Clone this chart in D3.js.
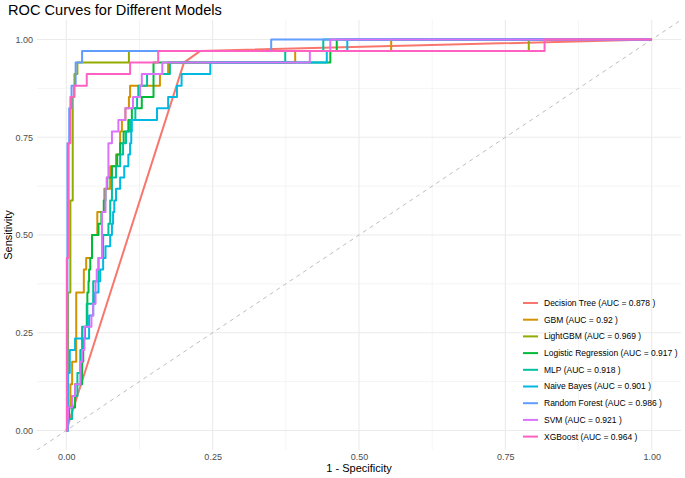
<!DOCTYPE html>
<html>
<head>
<meta charset="utf-8">
<script src="https://cdn.jsdelivr.net/npm/d3@7"></script>
<style>
  body { margin: 0; background: #fff; }
  text { font-family: "Liberation Sans", Arial, sans-serif; }
</style>
</head>
<body>
<script>
// ROC curves, values: [1 - specificity, sensitivity]
var models = ["Decision Tree", "GBM", "LightGBM", "Logistic Regression", "MLP",
              "Naive Bayes", "Random Forest", "SVM", "XGBoost"];
var aucs = ["0.878", "0.92", "0.969", "0.917", "0.918", "0.901", "0.986", "0.921", "0.964"];
var colors = ["#F8766D", "#D39200", "#93AA00", "#00BA38", "#00C19F",
              "#00B9E3", "#619CFF", "#DB72FB", "#FF61C3"];

var dtRoc = [[0, 0], [0.201, 0.941], [0.229, 0.971], [1, 1]];
var gbmRoc = [[0, 0], [0.002, 0.059], [0.007, 0.118], [0.010, 0.176], [0.017, 0.353],
  [0.030, 0.412], [0.034, 0.441], [0.044, 0.5], [0.053, 0.559], [0.065, 0.618],
  [0.075, 0.676], [0.085, 0.706], [0.092, 0.765], [0.095, 0.794], [0.101, 0.824],
  [0.107, 0.853], [0.109, 0.882], [0.160, 0.912], [0.174, 0.941], [0.391, 0.971],
  [0.555, 1], [1, 1]];
var lgbmRoc = [[0, 0], [0.003, 0.353], [0.007, 0.588], [0.011, 0.853], [0.014, 0.912],
  [0.019, 0.941], [0.107, 0.971], [0.790, 1], [1, 1]];
var lrRoc = [[0, 0], [0.002, 0.029], [0.005, 0.059], [0.015, 0.118], [0.027, 0.176],
  [0.029, 0.235], [0.032, 0.265], [0.035, 0.324], [0.036, 0.353], [0.038, 0.382],
  [0.039, 0.412], [0.041, 0.441], [0.044, 0.5], [0.055, 0.529], [0.060, 0.559],
  [0.064, 0.588], [0.067, 0.618], [0.070, 0.647], [0.078, 0.676], [0.087, 0.706],
  [0.092, 0.735], [0.098, 0.765], [0.106, 0.794], [0.112, 0.824], [0.129, 0.853],
  [0.149, 0.941], [0.451, 0.971], [0.462, 1], [1, 1]];
var mlpRoc = [[0, 0], [0.003, 0.029], [0.010, 0.088], [0.019, 0.147], [0.024, 0.206],
  [0.027, 0.265], [0.036, 0.324], [0.046, 0.382], [0.055, 0.441], [0.063, 0.5],
  [0.072, 0.529], [0.075, 0.588], [0.078, 0.647], [0.085, 0.676], [0.092, 0.706],
  [0.097, 0.735], [0.102, 0.765], [0.109, 0.794], [0.118, 0.824], [0.121, 0.853],
  [0.123, 0.882], [0.138, 0.912], [0.177, 0.941], [0.374, 0.971], [0.439, 1], [1, 1]];
var nbRoc = [[0, 0], [0.003, 0.147], [0.006, 0.206], [0.015, 0.235], [0.039, 0.294],
  [0.046, 0.324], [0.049, 0.353], [0.055, 0.382], [0.058, 0.412], [0.063, 0.441],
  [0.067, 0.471], [0.075, 0.5], [0.078, 0.529], [0.080, 0.559], [0.082, 0.588],
  [0.085, 0.618], [0.092, 0.647], [0.099, 0.676], [0.106, 0.706], [0.109, 0.735],
  [0.111, 0.765], [0.112, 0.794], [0.155, 0.824], [0.174, 0.853], [0.189, 0.882],
  [0.197, 0.912], [0.246, 0.941], [0.445, 0.971], [0.480, 1], [1, 1]];
var rfRoc = [[0, 0], [0.002, 0.735], [0.005, 0.824], [0.009, 0.882], [0.016, 0.941],
  [0.027, 0.971], [0.350, 1], [1, 1]];
var svmRoc = [[0, 0], [0.002, 0.029], [0.003, 0.059], [0.010, 0.088], [0.015, 0.118],
  [0.024, 0.176], [0.027, 0.206], [0.031, 0.265], [0.043, 0.294], [0.046, 0.324],
  [0.050, 0.382], [0.052, 0.412], [0.055, 0.441], [0.061, 0.559], [0.067, 0.618],
  [0.069, 0.647], [0.072, 0.735], [0.078, 0.765], [0.089, 0.794], [0.101, 0.824],
  [0.114, 0.853], [0.126, 0.882], [0.129, 0.912], [0.164, 0.941], [0.416, 0.971],
  [0.451, 1], [1, 1]];
var xgbRoc = [[0, 0], [0.001, 0.441], [0.004, 0.735], [0.007, 0.853], [0.013, 0.882],
  [0.035, 0.912], [0.109, 0.941], [0.157, 0.971], [0.817, 1], [1, 1]];

var rocs = [dtRoc, gbmRoc, lgbmRoc, lrRoc, mlpRoc, nbRoc, rfRoc, svmRoc, xgbRoc];

var majorTicks = [0, 0.25, 0.5, 0.75, 1];
var minorTicks = [0.125, 0.375, 0.625, 0.875];

// layout
var W = 685, H = 478;
var panel = {left: 37, right: 681, top: 20, bottom: 450};

var svg = d3.select("body").append("svg")
    .attr("width", W)
    .attr("height", H);

var x = d3.scaleLinear().domain([-0.05, 1.05]).range([panel.left, panel.right]);
var y = d3.scaleLinear().domain([-0.05, 1.05]).range([panel.bottom, panel.top]);

// grid
var grid = svg.append("g");
grid.selectAll(".vminor").data(minorTicks).enter().append("line")
    .attr("x1", d => x(d)).attr("x2", d => x(d))
    .attr("y1", panel.top).attr("y2", panel.bottom)
    .attr("stroke", "#EBEBEB").attr("stroke-width", 0.55);
grid.selectAll(".hminor").data(minorTicks).enter().append("line")
    .attr("y1", d => y(d)).attr("y2", d => y(d))
    .attr("x1", panel.left).attr("x2", panel.right)
    .attr("stroke", "#EBEBEB").attr("stroke-width", 0.55);
grid.selectAll(".vmajor").data(majorTicks).enter().append("line")
    .attr("x1", d => x(d)).attr("x2", d => x(d))
    .attr("y1", panel.top).attr("y2", panel.bottom)
    .attr("stroke", "#EBEBEB").attr("stroke-width", 1.1);
grid.selectAll(".hmajor").data(majorTicks).enter().append("line")
    .attr("y1", d => y(d)).attr("y2", d => y(d))
    .attr("x1", panel.left).attr("x2", panel.right)
    .attr("stroke", "#EBEBEB").attr("stroke-width", 1.1);

// axes (no ticks, no domain line)
var fmt = d3.format(".2f");
var xAxis = svg.append("g")
    .attr("transform", "translate(0," + panel.bottom + ")")
    .call(d3.axisBottom(x).tickValues(majorTicks).tickFormat(fmt).tickSize(0).tickPadding(4));
var yAxis = svg.append("g")
    .attr("transform", "translate(" + panel.left + ",0)")
    .call(d3.axisLeft(y).tickValues(majorTicks).tickFormat(fmt).tickSize(0).tickPadding(4));
[xAxis, yAxis].forEach(function(a) {
  a.select(".domain").remove();
  a.selectAll("text")
    .attr("fill", "#4D4D4D")
    .style("font-size", "9px")
    .style("font-family", "Liberation Sans, Arial, sans-serif");
});

// chance line
svg.append("clipPath").attr("id", "panel-clip")
  .append("rect")
    .attr("x", panel.left).attr("y", panel.top)
    .attr("width", panel.right - panel.left).attr("height", panel.bottom - panel.top);

svg.append("line")
    .attr("clip-path", "url(#panel-clip)")
    .attr("x1", x(-0.05)).attr("y1", y(-0.05))
    .attr("x2", x(1.05)).attr("y2", y(1.05))
    .attr("stroke", "#BEBEBE")
    .attr("stroke-width", 1)
    .attr("stroke-dasharray", "4,4");

// curves
var stepLine = d3.line().x(d => x(d[0])).y(d => y(d[1])).curve(d3.curveStepAfter);
var straightLine = d3.line().x(d => x(d[0])).y(d => y(d[1]));

svg.append("g").selectAll("path")
  .data(rocs)
  .enter()
  .append("path")
    .attr("d", (d, i) => i === 0 ? straightLine(d) : stepLine(d))
    .attr("fill", "none")
    .attr("stroke", (d, i) => colors[i])
    .attr("stroke-width", 2)
    .attr("stroke-linejoin", "round");

// titles
svg.append("text")
    .attr("x", 8).attr("y", 15)
    .style("font-size", "14.6px")
    .attr("fill", "#000")
    .text("ROC Curves for Different Models");

svg.append("text")
    .attr("x", (panel.left + panel.right) / 2).attr("y", 472)
    .attr("text-anchor", "middle")
    .style("font-size", "11px")
    .text("1 - Specificity");

svg.append("text")
    .attr("transform", "translate(12," + ((panel.top + panel.bottom) / 2) + ") rotate(-90)")
    .attr("text-anchor", "middle")
    .style("font-size", "11px")
    .text("Sensitivity");

// legend
var legend = svg.append("g").attr("transform", "translate(523,303)");
var rows = legend.selectAll("g").data(models).enter().append("g")
    .attr("transform", (d, i) => "translate(0," + (i * 16.7) + ")");
rows.append("line")
    .attr("x1", 0).attr("x2", 15)
    .attr("stroke", (d, i) => colors[i])
    .attr("stroke-width", 2);
rows.append("text")
    .attr("x", 21).attr("dy", "0.35em")
    .style("font-size", "8.5px")
    .attr("fill", "#000")
    .text((d, i) => d + " (AUC = " + aucs[i] + " )");
</script>
</body>
</html>
